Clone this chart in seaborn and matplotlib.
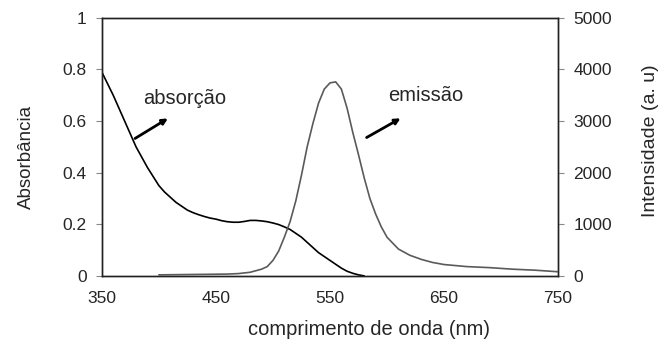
"""
Absorption / emission spectra on twin y axes.
"""

import pandas as pd
import matplotlib.pyplot as plt
import seaborn as sns

# ── Data ─────────────────────────────────────────────────────────────────────

abs_nm = [350, 355, 360, 365, 370, 375, 380, 385, 390, 395, 400, 405, 410, 415,
          420, 425, 430, 435, 440, 445, 450, 455, 460, 465, 470, 475, 480, 485,
          490, 495, 500, 505, 510, 515, 520, 525, 530, 535, 540, 545, 550, 555,
          560, 565, 570, 575, 580]
abs_val = [0.79, 0.745, 0.70, 0.65, 0.60, 0.55, 0.50, 0.46, 0.42, 0.385, 0.35,
           0.325, 0.305, 0.285, 0.27, 0.255, 0.245, 0.237, 0.23, 0.224, 0.22,
           0.214, 0.21, 0.208, 0.208, 0.211, 0.215, 0.215, 0.213, 0.21, 0.205,
           0.199, 0.19, 0.18, 0.165, 0.15, 0.13, 0.11, 0.09, 0.075, 0.06, 0.045,
           0.03, 0.018, 0.01, 0.004, 0.0]

em_nm = [400, 420, 440, 460, 470, 480, 490, 495, 500, 505, 510, 515, 520, 525,
         530, 535, 540, 545, 550, 555, 560, 565, 570, 575, 580, 585, 590, 595,
         600, 610, 620, 630, 640, 650, 670, 690, 710, 730, 750]
em_val = [20, 25, 30, 35, 45, 70, 130, 180, 300, 480, 750, 1050, 1450, 1950,
          2500, 2950, 3350, 3620, 3740, 3760, 3620, 3250, 2780, 2350, 1900, 1500,
          1200, 950, 750, 520, 400, 320, 260, 220, 180, 160, 130, 110, 80]

x_ticks = [350, 450, 550, 650, 750]
abs_ticks = [0, 0.2, 0.4, 0.6, 0.8, 1]
abs_tick_labels = ["0", "0.2", "0.4", "0.6", "0.8", "1"]
em_ticks = [0, 1000, 2000, 3000, 4000, 5000]

# ── Plot ─────────────────────────────────────────────────────────────────────

sns.set_style("white")
plt.rcParams['font.family'] = ['Liberation Sans', 'DejaVu Sans']
plt.rcParams['font.size'] = 12

df_abs = pd.DataFrame({"nm": abs_nm, "val": abs_val})
df_em = pd.DataFrame({"nm": em_nm, "val": em_val})

fig = plt.figure(figsize=(6.7, 3.44), dpi=100)
ax = fig.add_axes([0.152, 0.198, 0.681, 0.750])
ax2 = ax.twinx()

sns.lineplot(data=df_abs, x="nm", y="val", ax=ax, color="black", lw=1.2)
sns.lineplot(data=df_em, x="nm", y="val", ax=ax2, color="#5a5a5a", lw=1.2)

ax.set_xlim(350, 750)
ax.set_ylim(0, 1)
ax2.set_ylim(0, 5000)
ax.set_xticks(x_ticks)
ax.set_yticks(abs_ticks)
ax.set_yticklabels(abs_tick_labels)
ax2.set_yticks(em_ticks)

# labels sit a bit off-centre in the original, so place them explicitly
ax.set_xlabel("comprimento de onda (nm)", fontsize=14.5)
ax.xaxis.set_label_coords(0.585, -0.172)
ax.set_ylabel("Absorbância", fontsize=13.5)
ax.yaxis.set_label_coords(-0.147, 0.46)
ax2.set_ylabel("Intensidade (a. u)", fontsize=14)
ax2.yaxis.set_label_coords(1.184, 0.523)

for a in (ax, ax2):
    for s in a.spines.values():
        s.set_color("#222222")
        s.set_linewidth(1.0)
    a.tick_params(direction="out", length=4, width=0.8, color="#888888",
                  labelsize=12.5, pad=7)

ax.text(386, 0.686, "absorção", fontsize=14.5, va="center")
ax.annotate("", xy=(410, 0.616), xytext=(377, 0.527),
            arrowprops=dict(arrowstyle="-|>", color="black", lw=2,
                            mutation_scale=8))
ax.text(601, 0.70, "emissão", fontsize=14.5, va="center")
ax.annotate("", xy=(614, 0.616), xytext=(580, 0.531),
            arrowprops=dict(arrowstyle="-|>", color="black", lw=2,
                            mutation_scale=8))

plt.savefig("out.png", dpi=100)
